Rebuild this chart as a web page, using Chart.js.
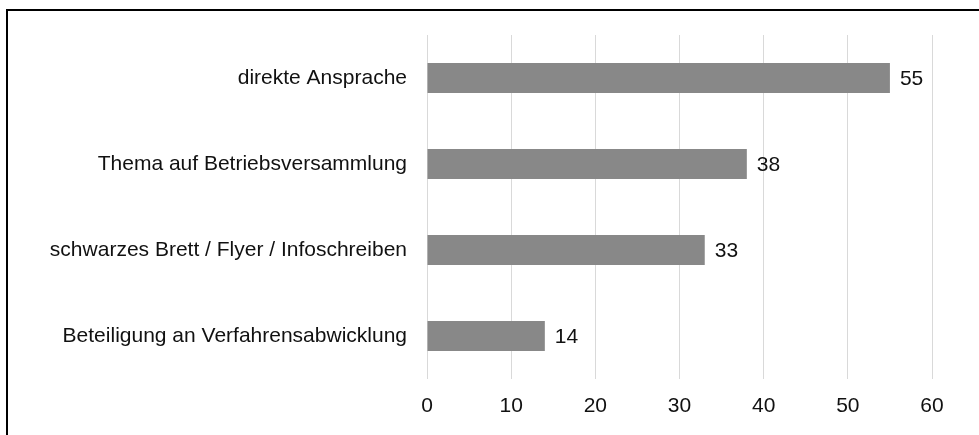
<!DOCTYPE html>
<html><head><meta charset="utf-8">
<script src="https://cdn.jsdelivr.net/npm/chart.js@4/dist/chart.umd.min.js"></script>
<style>
html,body{margin:0;padding:0;background:#fff;}
#wrap{position:relative;width:979px;height:435px;overflow:hidden;}
#frame{position:absolute;left:6px;top:9px;width:1000px;height:500px;border:2px solid #000;box-sizing:border-box;}
canvas{position:absolute;left:0;top:0;}
</style></head><body>
<div id="wrap"><div id="frame"></div><canvas id="c" width="979" height="435"></canvas></div>
<script>
const categories = ["direkte Ansprache","Thema auf Betriebsversammlung","schwarzes Brett / Flyer / Infoschreiben","Beteiligung an Verfahrensabwicklung"];
const values = [55, 38, 33, 14];
const xTicks = [0,10,20,30,40,50,60];

const FONT = "'Liberation Sans', Arial, Helvetica, sans-serif";
const FS = 21;
const labelPlugin = {
  id:'vals',
  afterDatasetsDraw(chart){
    const ctx = chart.ctx;
    const meta = chart.getDatasetMeta(0);
    ctx.save();
    ctx.font = FS + "px " + FONT;
    ctx.fillStyle = "#111111";
    ctx.textAlign = "left";
    ctx.textBaseline = "middle";
    meta.data.forEach((bar,i)=>{
      ctx.fillText(String(values[i]), bar.x + 10, bar.y + 1);
    });
    ctx.restore();
  }
};

new Chart(document.getElementById('c'), {
  type:'bar',
  data:{labels:categories, datasets:[{data:values, backgroundColor:'#888888', borderWidth:0, barPercentage:0.35, categoryPercentage:1.0}]},
  options:{
    indexAxis:'y', responsive:false, animation:false,
    layout:{padding:{top:35,right:47,bottom:0,left:0}},
    plugins:{legend:{display:false}, tooltip:{enabled:false}},
    scales:{
      x:{min:0,max:60,
        afterBuildTicks(s){ s.ticks = xTicks.map(v=>({value:v})); },
        afterFit(s){ s.height = 56; },
        grid:{color:'#d9d9d9', lineWidth:1, drawTicks:false},
        border:{display:false},
        ticks:{padding:15, color:'#111111', font:{family:FONT,size:FS}}
      },
      y:{
        afterFit(s){ s.width = 427; },
        grid:{display:false, drawTicks:false},
        border:{display:false},
        ticks:{padding:20, color:'#111111', font:{family:FONT,size:FS}}
      }
    }
  },
  plugins:[labelPlugin]
});
</script></body></html>
